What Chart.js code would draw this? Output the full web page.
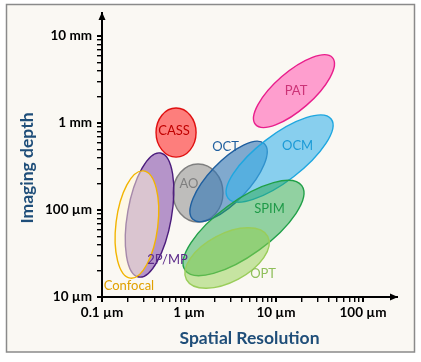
<!DOCTYPE html>
<html>
<head>
<meta charset="utf-8">
<script src="https://cdn.jsdelivr.net/npm/chart.js@4.4.1/dist/chart.umd.min.js"></script>
<style>
  html, body { margin: 0; padding: 0; background: #fff; }
  #wrap { width: 421px; height: 362px; }
</style>
</head>
<body>
<div id="wrap"><canvas id="c" width="421" height="362"></canvas></div>
<script>
// imaging techniques, listed in drawing order
const names = ['CASS', 'AO', 'OCT', 'OCM', 'PAT', '2P/MP', 'Confocal', 'SPIM', 'OPT']
// centre of each region: spatial resolution (µm) and imaging depth (µm)
const resolution = [0.71, 1.27, 2.85, 11.0, 16.1, 0.352, 0.252, 4.23, 2.74]
const depth = [778, 157, 213, 391, 2333, 87.7, 68.1, 62.1, 28.1]
// half extent of each region in decades (long / short axis) and tilt in degrees
const spanA = [0.23, 0.287, 0.598, 0.747, 0.586, 0.724, 0.621, 0.828, 0.529]
const spanB = [0.282, 0.333, 0.23, 0.264, 0.218, 0.253, 0.241, 0.31, 0.276]
const tilt = [0, 0, 46.6, 37.5, 41, 80, 83, 36, 28]

// axes
const xMajor = [0.1, 1, 10, 100]
const xLabels = ['0.1 µm', '1 µm', '10 µm', '100 µm']
const yMajor = [10, 100, 1000, 10000]
const yLabels = ['10 µm', '100 µm', '1 mm', '10 mm']

const FONT = 'Lato, "Open Sans", sans-serif'
const TITLE_COLOR = '#1f4e79'

// fill, outline, label colour and label offset (px) for each technique
const styles = {
    'CASS':     {fill: 'rgba(255,60,60,0.65)',  line: '#e01010', text: '#c00000', dx: -2,  dy: -2},
    'AO':       {fill: 'rgba(140,140,140,0.55)', line: '#7f7f7f', text: '#7f7f7f', dx: -9,  dy: -9},
    'OCT':      {fill: 'rgba(46,117,182,0.6)',  line: '#1f5f9f', text: '#1f5f9f', dx: -3,  dy: -35},
    'OCM':      {fill: 'rgba(60,180,235,0.6)',  line: '#1ea7e0', text: '#1b9ad6', dx: 18,  dy: -13},
    'PAT':      {fill: 'rgba(255,120,190,0.7)', line: '#e91e8c', text: '#cc3377', dx: 2,   dy: 0},
    '2P/MP':    {fill: 'rgba(112,48,160,0.5)',  line: '#4b1c7c', text: '#5c2a8a', dx: 18,  dy: 45},
    'Confocal': {fill: 'rgba(255,245,215,0.5)', line: '#f2b400', text: '#e0a000', dx: -8,  dy: 61},
    'SPIM':     {fill: 'rgba(40,170,80,0.5)',   line: '#20a048', text: '#1e9a48', dx: 26,  dy: -19},
    'OPT':      {fill: 'rgba(146,208,80,0.5)',  line: '#9acd5a', text: '#8fbf5a', dx: 36,  dy: 16}
}

function minorTicks(majors) {
    let out = []
    majors.forEach(function (d, i) {
        out.push(d)
        if (i < majors.length - 1) {
            for (let k = 2; k < 10; k++) out.push(k * d)
        }
    })
    return out
}

const ellipses = {
    id: 'ellipses',
    beforeDraw(chart) {
        const ctx = chart.ctx
        ctx.save()
        ctx.fillStyle = '#ffffff'
        ctx.fillRect(0, 0, chart.width, chart.height)
        ctx.fillStyle = '#faf8f3'
        ctx.fillRect(6.5, 4.5, 408, 347.5)
        ctx.strokeStyle = '#8a8a8a'
        ctx.lineWidth = 1.5
        ctx.strokeRect(6.5, 4.5, 408, 347.5)
        ctx.restore()
    },
    afterDatasetsDraw(chart) {
        const {ctx, chartArea, scales: {x, y}} = chart
        const decX = x.getPixelForValue(10) - x.getPixelForValue(1)
        const decY = y.getPixelForValue(1) - y.getPixelForValue(10)
        ctx.save()
        names.forEach(function (name, i) {
            const st = styles[name]
            const cx = x.getPixelForValue(resolution[i])
            const cy = y.getPixelForValue(depth[i])
            ctx.beginPath()
            ctx.ellipse(cx, cy, spanA[i] * decX, spanB[i] * decY, -tilt[i] * Math.PI / 180, 0, 2 * Math.PI)
            ctx.fillStyle = st.fill
            ctx.fill()
            ctx.strokeStyle = st.line
            ctx.lineWidth = 1.4
            ctx.stroke()
        })
        // technique names
        ctx.font = '13px ' + FONT
        ctx.textAlign = 'center'
        ctx.textBaseline = 'middle'
        names.forEach(function (name, i) {
            const st = styles[name]
            ctx.fillStyle = st.text
            ctx.fillText(name, x.getPixelForValue(resolution[i]) + st.dx, y.getPixelForValue(depth[i]) + st.dy)
        })

        // arrow heads
        ctx.fillStyle = '#000'
        ctx.beginPath()
        ctx.moveTo(chartArea.left, chartArea.top - 1)
        ctx.lineTo(chartArea.left - 3.5, chartArea.top + 7)
        ctx.lineTo(chartArea.left + 3.5, chartArea.top + 7)
        ctx.closePath()
        ctx.fill()
        ctx.beginPath()
        ctx.moveTo(chartArea.right + 1, chartArea.bottom)
        ctx.lineTo(chartArea.right - 7, chartArea.bottom - 3.5)
        ctx.lineTo(chartArea.right - 7, chartArea.bottom + 3.5)
        ctx.closePath()
        ctx.fill()

        // y axis title
        ctx.translate(27, 168)
        ctx.rotate(-Math.PI / 2)
        ctx.font = 'bold 17.5px ' + FONT
        ctx.fillStyle = TITLE_COLOR
        ctx.fillText('Imaging depth', 0, 0)
        ctx.restore()
    }
}

const xTicks = minorTicks(xMajor)
const yTicks = minorTicks(yMajor)

function tickWidth(majors) {
    return function (c) {
        return (c.tick && majors.indexOf(c.tick.value) >= 0) ? 2 : 1.4
    }
}

const tickFont = {family: FONT, size: 13.5, weight: 'bold'}

new Chart(document.getElementById('c'), {
    type: 'scatter',
    data: {
        datasets: [{
            data: resolution.map((r, i) => ({x: r, y: depth[i]})),
            pointRadius: 0
        }]
    },
    options: {
        responsive: false,
        animation: false,
        layout: {padding: {top: 13, right: 24, left: 0, bottom: 0}},
        plugins: {legend: {display: false}, tooltip: {enabled: false}},
        scales: {
            x: {
                type: 'logarithmic',
                min: 0.1,
                max: 246,
                afterBuildTicks: s => { s.ticks = xTicks.map(v => ({value: v})) },
                afterFit: s => { s.height = 65 },
                grid: {drawOnChartArea: false, tickLength: 5, color: '#000', lineWidth: tickWidth(xMajor)},
                border: {color: '#000', width: 2},
                ticks: {
                    autoSkip: false, maxRotation: 0, padding: 3, color: '#000', font: tickFont,
                    callback: v => { const i = xMajor.indexOf(v); return i >= 0 ? xLabels[i] : '' }
                },
                title: {
                    display: true, text: 'Spatial Resolution', color: TITLE_COLOR,
                    font: {family: FONT, size: 17.5, weight: 'bold'}, padding: {top: 0, bottom: 13}
                }
            },
            y: {
                type: 'logarithmic',
                min: 10,
                max: 18400,
                afterBuildTicks: s => { s.ticks = yTicks.map(v => ({value: v})) },
                afterFit: s => { s.width = 102 },
                grid: {drawOnChartArea: false, tickLength: 5, color: '#000', lineWidth: tickWidth(yMajor)},
                border: {color: '#000', width: 2},
                ticks: {
                    autoSkip: false, padding: 5, color: '#000', font: tickFont,
                    callback: v => { const i = yMajor.indexOf(v); return i >= 0 ? yLabels[i] : '' }
                }
            }
        }
    },
    plugins: [ellipses]
})
</script>
</body>
</html>
